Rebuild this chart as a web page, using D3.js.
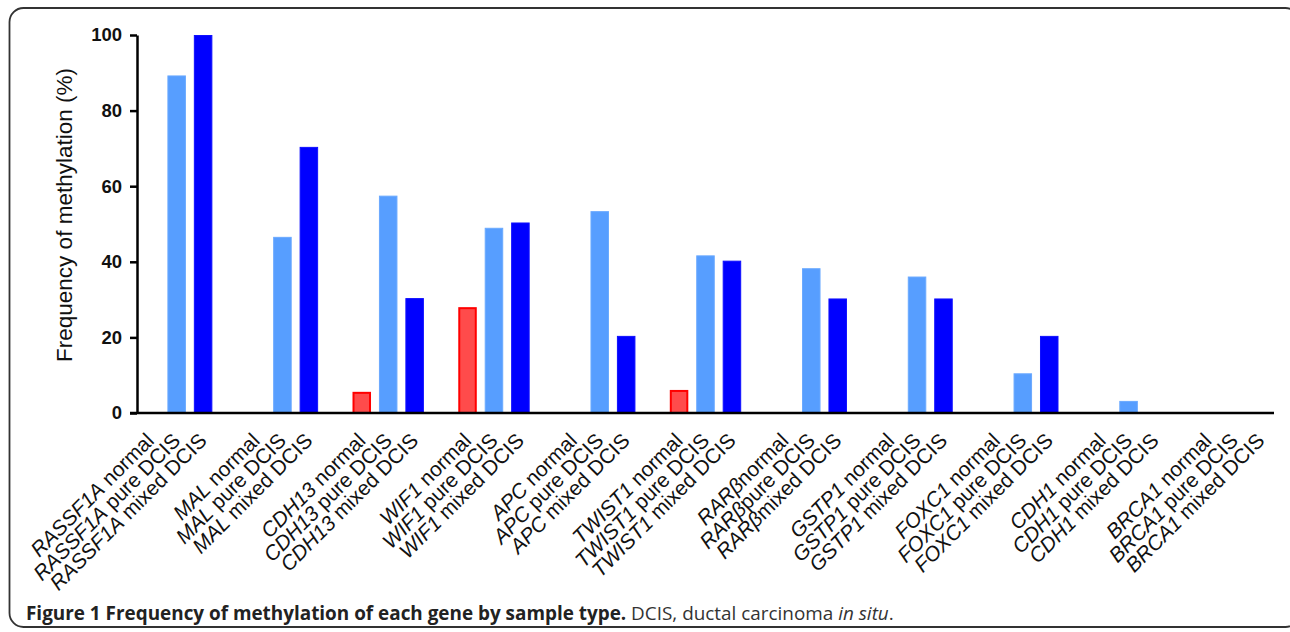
<!DOCTYPE html>
<html>
<head>
<meta charset="utf-8">
<script src="https://cdn.jsdelivr.net/npm/d3@7"></script>
<style>
  html, body { margin: 0; padding: 0; background: #fff; }
  svg { display: block; }
</style>
</head>
<body>
<svg id="chart" width="1290" height="632"></svg>
<script>
// ---- data ----
const genes = ["RASSF1A", "MAL", "CDH13", "WIF1", "APC", "TWIST1", "RARβ", "GSTP1", "FOXC1", "CDH1", "BRCA1"];
const sampleTypes = ["normal", "pure DCIS", "mixed DCIS"];
const normalValues = [0, 0, 5.6, 28, 0, 6.1, 0, 0, 0, 0, 0];
const pureValues   = [89.3, 46.6, 57.5, 49, 53.4, 41.7, 38.3, 36.1, 10.5, 3.2, 0];
const mixedValues  = [100, 70.4, 30.4, 50.4, 20.4, 40.3, 30.3, 30.3, 20.4, 0, 0];
const yTicks = [0, 20, 40, 60, 80, 100];
const yTitle = "Frequency of methylation (%)";
const captionBold = "Figure 1 Frequency of methylation of each gene by sample type.";
const captionRest = " DCIS, ductal carcinoma ";
const captionItalic = "in situ";

// ---- build rows ----
const seriesValues = [normalValues, pureValues, mixedValues];
const rows = [];
const slots = [];
genes.forEach((g, gi) => {
  sampleTypes.forEach((t, ti) => {
    const key = g + "|" + t;
    slots.push(key);
    rows.push({ key, gene: g, type: t, ti, value: seriesValues[ti][gi] });
  });
  if (gi < genes.length - 1) slots.push("gap" + gi);
});

const svg = d3.select("#chart");

// frame
svg.append("rect")
  .attr("x", 9.5).attr("y", 8).attr("width", 1290).attr("height", 619)
  .attr("rx", 14).attr("ry", 14)
  .attr("fill", "none").attr("stroke", "#333").attr("stroke-width", 1.8);

const plotL = 137, plotR = 1274, plotT = 35, plotB = 413;

const x = d3.scaleBand().domain(slots).range([plotL, plotR])
  .paddingInner(0.3).paddingOuter(0.15);
const y = d3.scaleLinear().domain([0, 100]).range([plotB, plotT]);

const colors = { "normal": "#ff4b4b", "pure DCIS": "#579eff", "mixed DCIS": "#0000ff" };
const strokes = { "normal": "#ff0000", "pure DCIS": "#6aa9ff", "mixed DCIS": "#1010ff" };

// bars
svg.append("g").selectAll("rect")
  .data(rows.filter(d => d.value > 0))
  .join("rect")
  .attr("x", d => x(d.key) + (d.type === "normal" ? 1 : 0.5))
  .attr("y", d => y(d.value) + (d.type === "normal" ? 1 : 0.5))
  .attr("width", d => x.bandwidth() - (d.type === "normal" ? 2 : 1))
  .attr("height", d => y(0) - y(d.value) - (d.type === "normal" ? 1 : 0.5))
  .attr("fill", d => colors[d.type])
  .attr("stroke", d => strokes[d.type])
  .attr("stroke-width", d => d.type === "normal" ? 2 : 1);

// y axis
const yAxis = d3.axisLeft(y).tickValues(yTicks).tickSize(7).tickPadding(8).tickSizeOuter(0);
const gy = svg.append("g").attr("transform", `translate(${plotL},0)`).call(yAxis);
gy.select(".domain").attr("stroke", "#000").attr("stroke-width", 2.5);
gy.selectAll(".tick line").attr("stroke", "#000").attr("stroke-width", 2.5);
gy.selectAll(".tick text")
  .attr("font-family", "'Liberation Sans', Arial, sans-serif")
  .attr("font-size", 18.5).attr("font-weight", "bold").attr("fill", "#111");

// x axis baseline
const xAxis = d3.axisBottom(x).tickValues([]).tickSizeOuter(0);
const gx = svg.append("g").attr("transform", `translate(0,${plotB})`).call(xAxis);
gx.select(".domain").attr("stroke", "#000").attr("stroke-width", 2.5)
  .attr("d", `M${130},0H${plotR}`);

// x labels
const lab = svg.append("g").selectAll("text")
  .data(rows)
  .join("text")
  .attr("transform", d => `translate(${x(d.key) + x.bandwidth() / 2 + 5},${plotB + 29}) rotate(-45)`)
  .attr("text-anchor", "end")
  .attr("font-family", "'Liberation Sans', Arial, sans-serif")
  .attr("font-size", 20.8)
  .attr("fill", "#111");
lab.append("tspan").attr("font-style", "italic").text(d => d.gene);
lab.append("tspan").text(d => (d.gene === "RARβ" ? "" : " ") + d.type);

// y title
svg.append("text")
  .attr("transform", `translate(72,215) rotate(-90)`)
  .attr("text-anchor", "middle")
  .attr("font-family", "'Liberation Sans', Arial, sans-serif")
  .attr("font-size", 22.5)
  .attr("fill", "#111")
  .text(yTitle);

// caption
const cap = svg.append("text")
  .attr("x", 26).attr("y", 620)
  .attr("font-family", "'Open Sans', 'Noto Sans', sans-serif")
  .attr("font-size", 18.9)
  .attr("fill", "#222");
cap.append("tspan").attr("font-weight", "bold").text(captionBold);
cap.append("tspan").attr("fill", "#333").text(captionRest);
cap.append("tspan").attr("fill", "#333").attr("font-style", "italic").text(captionItalic);
cap.append("tspan").attr("fill", "#333").text(".");
</script>
</body>
</html>
